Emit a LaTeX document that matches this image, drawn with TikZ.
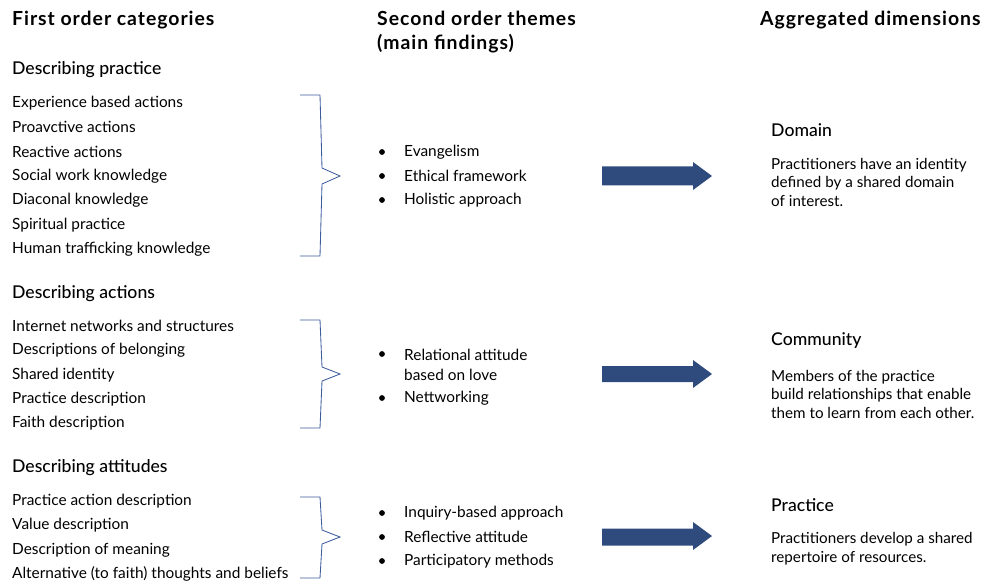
\documentclass[tikz,border=0pt]{standalone}
\usepackage{fontspec}
\setmainfont{Lato}
\newfontfamily\medfont{Lato Medium}
\newfontfamily\headfont{Lato}[LetterSpace=5]
\definecolor{arrowblue}{HTML}{2F4B7E}
\definecolor{bracketblue}{HTML}{3C5C9C}
\begin{document}
\begin{tikzpicture}[x=1pt,y=-1pt,
  colhead/.style={anchor=west,inner sep=0pt,font=\headfont\fontsize{19.4}{23.5}\selectfont\bfseries},
  grouphead/.style={anchor=west,inner sep=0pt,font=\medfont\fontsize{17.6}{18}\selectfont},
  item/.style={anchor=west,inner sep=0pt,font=\fontsize{15.4}{18}\selectfont},
  bullet/.style={circle,fill=black,inner sep=0pt,minimum size=5.8pt},
  dimhead/.style={anchor=west,inner sep=0pt,font=\medfont\fontsize{17.6}{18}\selectfont},
  dimtext/.style={anchor=north west,inner sep=0pt,align=left,font=\fontsize{15.2}{18.5}\selectfont},
  brace/.style={draw=bracketblue,line width=0.85pt,line join=miter},
  fatarrow/.style={fill=arrowblue}
]
\useasboundingbox (0,0) rectangle (984,585);

% column headings
\node[colhead] (h1) at (12,20) {First order categories};
\node[colhead,align=left,anchor=north west] (h2) at (377,11) {Second order themes\\(main findings)};
\node[colhead] (h3) at (760,20) {Aggregated dimensions};

% group 1: describing practice
\node[grouphead] (g1) at (12,70) {Describing practice};
\foreach \t [count=\i] in {Experience based actions,Proavctive actions,Reactive actions,Social work knowledge,Diaconal knowledge,Spiritual practice,Human trafficking knowledge}
  \node[item] (a\i) at (12,{103+24.4*(\i-1)}) {\t};

\coordinate (b1t) at (300,95);
\coordinate (b1b) at (300,256);
\coordinate (b1p) at (340,176);
\draw[brace] (b1t) -- (320,95) -- (322,168) -- (b1p) -- (322,184) -- (320,256) -- (b1b);

\foreach \t [count=\i] in {Evangelism,Ethical framework,Holistic approach}{
  \node[bullet] (d1\i) at (382,{152+24*(\i-1)}) {};
  \node[item] (t1\i) at (404,{152+24*(\i-1)}) {\t};
}

\fill[fatarrow] (602,166.5) coordinate (r1s) -- (693,166.5) -- (693,162) -- (712,176) coordinate (r1e) -- (693,190) -- (693,185.5) -- (602,185.5) -- cycle;

\node[dimhead] (dom) at (771,130) {Domain};
\node[dimtext] (domt) at (771,158) {Practitioners have an identity\\defined by a shared domain\\of interest.};

% group 2: describing actions
\node[grouphead] (g2) at (12,294) {Describing actions};
\foreach \t [count=\i] in {Internet networks and structures,Descriptions of belonging,Shared identity,Practice description,Faith description}
  \node[item] (c\i) at (12,{326+24.4*(\i-1)}) {\t};

\coordinate (b2t) at (300,320);
\coordinate (b2b) at (300,428);
\coordinate (b2p) at (340,374);
\draw[brace] (b2t) -- (320,320) -- (322,367) -- (b2p) -- (322,381) -- (320,428) -- (b2b);

\node[bullet] (d21) at (382,354) {};
\node[item,align=left,anchor=north west,font=\fontsize{15.4}{20}\selectfont] (t21) at (404,348.5) {Relational attitude\\based on love};
\node[bullet] (d22) at (382,398) {};
\node[item] (t22) at (404,398) {Nettworking};

\fill[fatarrow] (602,366) coordinate (r2s) -- (693,366) -- (693,360) -- (712,374) coordinate (r2e) -- (693,388) -- (693,382) -- (602,382) -- cycle;

\node[dimhead] (com) at (771,341) {Community};
\node[dimtext] (comt) at (771,370) {Members of the practice\\build relationships that enable\\them to learn from each other.};

% group 3: describing attitudes
\node[grouphead] (g3) at (12,468) {Describing attitudes};
\foreach \t [count=\i] in {Practice action description,Value description,Description of meaning,Alternative (to faith) thoughts and beliefs}
  \node[item] (e\i) at (12,{501+24.4*(\i-1)}) {\t};

\coordinate (b3t) at (300,497);
\coordinate (b3b) at (300,578);
\coordinate (b3p) at (340,537);
\draw[brace] (b3t) -- (320,497) -- (322,530) -- (b3p) -- (322,544) -- (320,578) -- (b3b);

\foreach \t [count=\i] in {Inquiry-based approach,Reflective attitude,Participatory methods}{
  \node[bullet] (d3\i) at (382,{513+24*(\i-1)}) {};
  \node[item] (t3\i) at (404,{513+24*(\i-1)}) {\t};
}

\fill[fatarrow] (602,528.5) coordinate (r3s) -- (693,528.5) -- (693,522) -- (712,536) coordinate (r3e) -- (693,550) -- (693,545.5) -- (602,545.5) -- cycle;

\node[dimhead] (pra) at (771,505) {Practice};
\node[dimtext] (prat) at (771,532.5) {Practitioners develop a shared\\repertoire of resources.};
\end{tikzpicture}
\end{document}
